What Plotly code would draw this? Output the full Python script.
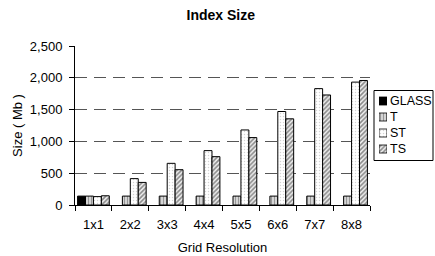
import plotly.graph_objects as go

# ---- data ----
categories = ["1x1", "2x2", "3x3", "4x4", "5x5", "6x6", "7x7", "8x8"]
series_names = ["GLASS", "T", "ST", "TS"]
glass = [140, None, None, None, None, None, None, None]
t_vals = [140, 140, 140, 140, 140, 140, 140, 140]
st_vals = [132, 415, 655, 855, 1180, 1470, 1830, 1932]
ts_vals = [145, 355, 555, 760, 1060, 1355, 1730, 1958]
y_ticks = [0, 500, 1000, 1500, 2000, 2500]

values = {"GLASS": glass, "T": t_vals, "ST": st_vals, "TS": ts_vals}

# ---- styles ----
styles = {
    "GLASS": dict(color="#000000", shape="", fg="#000000", bg="#000000", size=3, sol=0.3),
    "T": dict(color="#c8c8c8", shape="|", fg="#5a5a5a", bg="#d4d4d4", size=3, sol=0.35),
    "ST": dict(color="#f4f4f4", shape=".", fg="#a8a8a8", bg="#ffffff", size=3, sol=0.2),
    "TS": dict(color="#f0f0f0", shape="/", fg="#222222", bg="#f0f0f0", size=3.2, sol=0.5),
}

W, H = 435, 256
ML, MT, MB, MR = 75, 46, 51, 0
PLOT_RIGHT = 370
paper_w = W - ML - MR
paper_h = H - MT - MB


def px_x(x):
    return (x - ML) / paper_w


def px_y(y):
    return (H - MB - y) / paper_h


FONT = "Liberation Sans, Arial, sans-serif"

fig = go.Figure()

for name in series_names:
    s = styles[name]
    fig.add_trace(go.Bar(
        name=name,
        x=categories,
        y=values[name],
        marker=dict(
            color=s["color"],
            line=dict(color="black", width=1),
            pattern=dict(shape=s["shape"], fgcolor=s["fg"], bgcolor=s["bg"],
                         size=s["size"], solidity=s["sol"]),
        ),
        showlegend=False,
        xaxis="x", yaxis="y",
    ))

# legend swatches (one small bar per series on a hidden subplot)
for i, name in enumerate(series_names):
    s = styles[name]
    fig.add_trace(go.Bar(
        orientation="h",
        y=[3 - i],
        x=[1],
        base=0,
        width=0.5,
        offset=-0.25,
        marker=dict(
            color=s["color"],
            line=dict(color="black", width=0.8),
            pattern=dict(shape=s["shape"], fgcolor=s["fg"], bgcolor=s["bg"],
                         size=s["size"], solidity=s["sol"]),
        ),
        showlegend=False,
        hoverinfo="skip",
        xaxis="x2", yaxis="y2",
    ))

annotations = []
for i, name in enumerate(series_names):
    annotations.append(dict(
        text=name, xref="paper", yref="y2", x=px_x(388), y=3 - i,
        xanchor="left", yanchor="middle", showarrow=False,
        font=dict(family=FONT, size=12.5, color="black"),
    ))

fig.update_layout(
    width=W, height=H,
    margin=dict(l=ML, r=MR, t=MT, b=MB, autoexpand=False),
    paper_bgcolor="white", plot_bgcolor="white",
    font=dict(family=FONT, size=13, color="black"),
    title=dict(text="<b>Index Size</b>", xref="container", yref="container",
               x=220.8 / W, y=1 - 14.7 / H, xanchor="center", yanchor="middle",
               font=dict(family=FONT, size=14, color="black")),
    barmode="group", bargap=0.14, bargroupgap=0,
    xaxis=dict(
        domain=[0, px_x(PLOT_RIGHT)], type="category",
        showline=True, linecolor="black", linewidth=1,
        ticks="outside", tickson="boundaries", ticklen=5, tickcolor="black", tickwidth=1,
        showgrid=False, zeroline=False,
        tickfont=dict(size=13), ticklabelstandoff=7,
        title=dict(text="Grid Resolution", font=dict(size=13), standoff=12),
    ),
    yaxis=dict(
        range=[0, 2500], tickvals=y_ticks, tickformat=",",
        showline=True, linecolor="black", linewidth=1,
        ticks="outside", ticklen=5, tickcolor="black", tickwidth=1,
        showgrid=True, gridcolor="#555555", gridwidth=1.2, griddash="12px,7px",
        zeroline=False,
        tickfont=dict(size=13), ticklabelstandoff=4,
        title=dict(text="Size ( Mb )", font=dict(size=13), standoff=4),
    ),
    xaxis2=dict(domain=[px_x(379), px_x(387)], range=[0, 1], visible=False,
                anchor="y2", fixedrange=True),
    yaxis2=dict(domain=[px_y(157), px_y(93)], range=[-0.5, 3.5], visible=False,
                anchor="x2", fixedrange=True),
    shapes=[dict(type="rect", xref="paper", yref="paper",
                 x0=px_x(374), x1=px_x(433), y0=px_y(160.5), y1=px_y(90.5),
                 line=dict(color="black", width=1), fillcolor="rgba(0,0,0,0)")],
    annotations=annotations,
)

fig.write_html(
    "out.html",
    config={"displayModeBar": False},
    post_script="document.body.style.margin='0';document.body.style.overflow='hidden';",
)
